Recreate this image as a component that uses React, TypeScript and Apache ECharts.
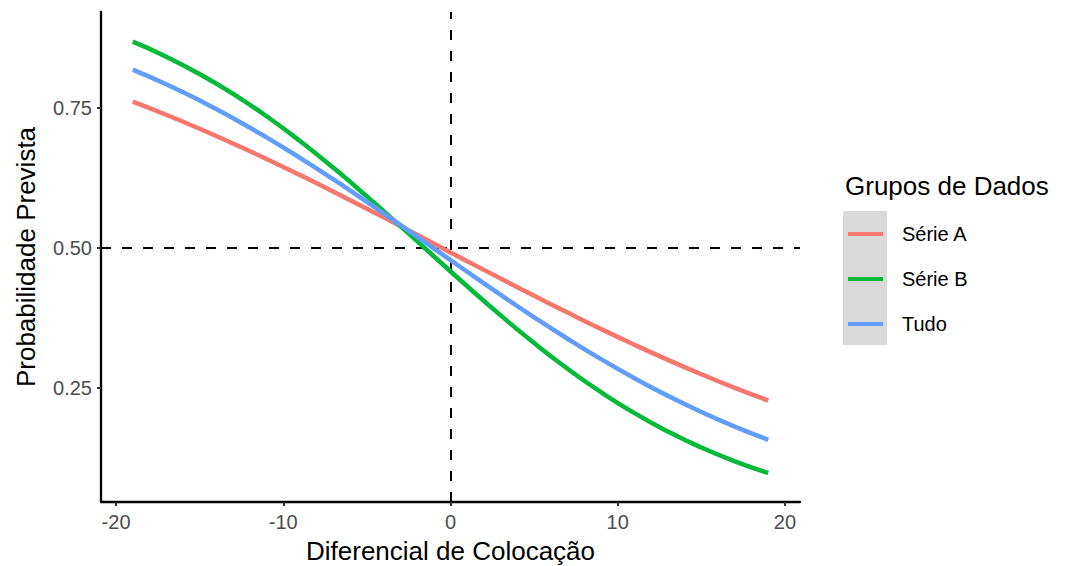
import React, { useEffect, useRef } from "react";
import * as echarts from "echarts";

const xValues = [-19, -17, -15, -13, -11, -9, -7, -5, -3, -1, 1, 3, 5, 7, 9, 11, 13, 15, 17, 19];
const serieA = [0.761, 0.7375, 0.7125, 0.6861, 0.6585, 0.6298, 0.6001, 0.5697, 0.5387, 0.5074, 0.4761, 0.445, 0.4142, 0.3842, 0.3549, 0.3268, 0.2999, 0.2742, 0.2499, 0.2272];
const serieB = [0.868, 0.8412, 0.8101, 0.7747, 0.7348, 0.6906, 0.6427, 0.5917, 0.5387, 0.4848, 0.4312, 0.3792, 0.3298, 0.2839, 0.2421, 0.2047, 0.1718, 0.1432, 0.1187, 0.0979];
const tudo = [0.8182, 0.792, 0.763, 0.7313, 0.6971, 0.6606, 0.6221, 0.582, 0.5408, 0.499, 0.4572, 0.416, 0.3759, 0.3375, 0.3011, 0.267, 0.2355, 0.2067, 0.1806, 0.1571];
const seriesNames = ["Série A", "Série B", "Tudo"];
const seriesColors = ["#F8766D", "#00BA38", "#619CFF"];
const xTicks = [-20, -10, 0, 10, 20];
const yTicks = [0.25, 0.5, 0.75];

const FONT = "Liberation Sans, Arial, sans-serif";

export default function App() {
  const ref = useRef<HTMLDivElement>(null);
  useEffect(() => {
    if (!ref.current) return;
    const chart = echarts.init(ref.current, null, { renderer: "svg" });
    const allData = [serieA, serieB, tudo];
    const series: any[] = allData.map((d, i) => ({
      name: seriesNames[i],
      type: "line",
      smooth: true,
      showSymbol: false,
      symbol: "none",
      z: 3 + i,
      data: xValues.map((x, k) => [x, d[k]]),
      lineStyle: { color: seriesColors[i], width: 4.5 },
      itemStyle: { color: seriesColors[i] },
    }));
    series[0].markLine = {
      silent: true,
      symbol: "none",
      label: { show: false },
      lineStyle: { color: "#000", type: [10, 11], width: 2 },
      data: [{ xAxis: 0 }, { yAxis: 0.5 }],
      z: 1,
    };
    chart.setOption({
      animation: false,
      backgroundColor: "#fff",
      textStyle: { fontFamily: FONT },
      grid: { left: 101, right: 267, top: 12, bottom: 64, containLabel: false, outerBoundsMode: "none" },
      xAxis: {
        type: "value",
        min: -20.9,
        max: 20.9,
        name: "Diferencial de Colocação",
        nameLocation: "middle",
        nameGap: 36,
        nameTextStyle: { fontSize: 26, color: "#000", fontFamily: FONT },
        axisLine: { onZero: false, lineStyle: { color: "#000", width: 2.3 } },
        axisTick: { show: true, customValues: xTicks, length: 4, lineStyle: { color: "#333", width: 2 } },
        axisLabel: { customValues: xTicks, fontSize: 20, color: "#4D4D4D", margin: 10, fontFamily: FONT },
        splitLine: { show: false },
      },
      yAxis: {
        type: "value",
        min: 0.046,
        max: 0.921,
        name: "Probabilidade Prevista",
        nameLocation: "middle",
        nameGap: 62,
        nameTextStyle: { fontSize: 26, color: "#000", fontFamily: FONT },
        axisLine: { onZero: false, lineStyle: { color: "#000", width: 2.3 } },
        axisTick: { show: true, customValues: yTicks, length: 4, lineStyle: { color: "#333", width: 2 } },
        axisLabel: {
          customValues: yTicks,
          fontSize: 20,
          color: "#4D4D4D",
          margin: 9,
          fontFamily: FONT,
          formatter: (v: number) => v.toFixed(2),
        },
        splitLine: { show: false },
      },
      legend: {
        orient: "vertical",
        left: 843,
        top: 219,
        icon: "rect",
        itemWidth: 35,
        itemHeight: 4,
        itemGap: 25,
        data: seriesNames,
        selectedMode: false,
        textStyle: { fontSize: 20, color: "#000", lineHeight: 20, padding: [0, 0, 0, 14], fontFamily: FONT },
      },
      graphic: [
        {
          type: "rect",
          left: 843,
          top: 211,
          shape: { width: 44, height: 134 },
          style: { fill: "#D9D9D9" },
          z: -1,
          silent: true,
        },
        {
          type: "text",
          left: 845,
          top: 173,
          style: { text: "Grupos de Dados", fontSize: 26, fill: "#000", fontFamily: FONT },
        },
      ],
      series,
    });
    return () => chart.dispose();
  }, []);
  return (
    <div
      ref={ref}
      style={{ position: "fixed", left: 0, top: 0, width: 1067, height: 566, background: "#fff" }}
    />
  );
}
